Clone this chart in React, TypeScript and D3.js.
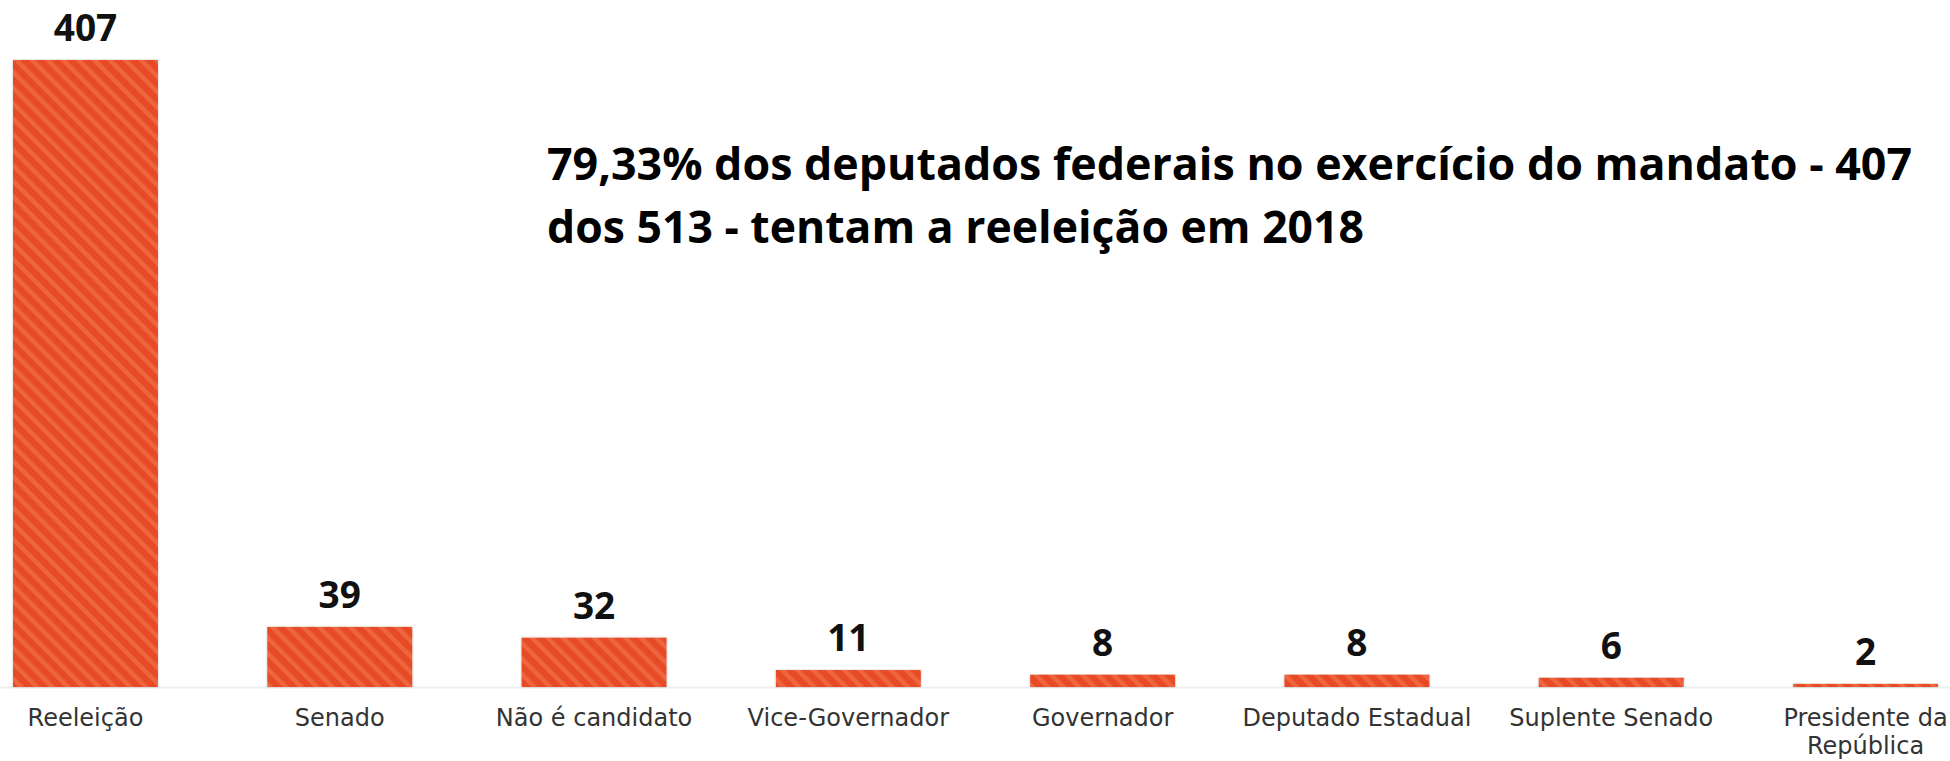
import React from "react";
import * as d3 from "d3";

const categories: string[][] = [
  ["Reeleição"],
  ["Senado"],
  ["Não é candidato"],
  ["Vice-Governador"],
  ["Governador"],
  ["Deputado Estadual"],
  ["Suplente Senado"],
  ["Presidente da", "República"],
];
const values: number[] = [407, 39, 32, 11, 8, 8, 6, 2];
const titleLines: string[] = [
  "79,33% dos deputados federais no exercício do mandato - 407",
  "dos 513 - tentam a reeleição em 2018",
];
const titleWidths: number[] = [1365, 817];

const W = 1950;
const H = 761;
const baseY = 687;
const topY = 60;

export default function App() {
  const keys = categories.map((c) => c.join(" "));
  const x = d3.scaleBand<string>().domain(keys).range([13, 1938]).paddingInner(0.43).paddingOuter(0);
  const y = d3.scaleLinear().domain([0, 407]).range([baseY, topY]);

  return (
    <svg
      width={W}
      height={H}
      viewBox={`0 0 ${W} ${H}`}
      style={{ position: "absolute", left: 0, top: 0, background: "#fff" }}
    >
      <defs>
        <pattern id="hatch" width="11" height="11" patternUnits="userSpaceOnUse" patternTransform="rotate(-45)">
          <rect width="11" height="11" fill="#E64B25" />
          <rect width="4.5" height="11" fill="#EE6540" />
        </pattern>
        <filter id="soft" x="-5%" y="-5%" width="110%" height="110%">
          <feDropShadow dx="0" dy="0" stdDeviation="1.2" floodColor="#000" floodOpacity="0.25" />
        </filter>
      </defs>
      <line x1={0} x2={W} y1={baseY + 0.5} y2={baseY + 0.5} stroke="#efefef" strokeWidth={2} />
      {values.map((v, i) => {
        const k = keys[i];
        const x0 = x(k) as number;
        const bw = x.bandwidth();
        const yt = y(v);
        return (
          <g key={k}>
            <rect
              x={x0}
              y={yt}
              width={bw}
              height={baseY - yt}
              fill="url(#hatch)"
              filter="url(#soft)"
            />
            <text
              x={x0 + bw / 2}
              y={yt - 19}
              textAnchor="middle"
              fontFamily="'Open Sans', sans-serif"
              fontWeight={700}
              fontSize={37}
              fill="#111"
            >
              {v}
            </text>
            {categories[i].map((line, j) => (
              <text
                key={j}
                x={x0 + bw / 2}
                y={726 + j * 28}
                textAnchor="middle"
                fontFamily="'DejaVu Sans', sans-serif"
                fontSize={24}
                fill="#333"
              >
                {line}
              </text>
            ))}
          </g>
        );
      })}
      {titleLines.map((t, i) => (
        <text
          key={i}
          x={547}
          y={180 + i * 63}
          fontFamily="'Open Sans', sans-serif"
          fontWeight={700}
          fontSize={45}
          textLength={titleWidths[i]}
          lengthAdjust="spacingAndGlyphs"
          fill="#000"
        >
          {t}
        </text>
      ))}
    </svg>
  );
}
